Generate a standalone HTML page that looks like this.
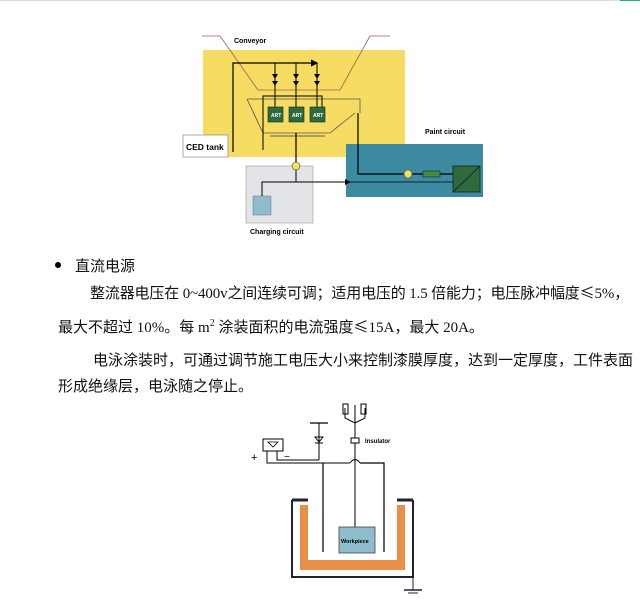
<!DOCTYPE html>
<html><head><meta charset="utf-8"><style>
html,body{margin:0;padding:0;background:#fff;width:640px;height:609px;overflow:hidden;position:relative}
.t{position:absolute;white-space:nowrap;font-family:"Liberation Serif","Noto Sans CJK SC",sans-serif;font-size:15px;color:#111}
.c{font-family:"Noto Sans CJK SC",sans-serif}
</style></head><body>
<div style="position:absolute;left:0;top:0;width:620px;height:1px;background:#ddd"></div>
<div style="position:absolute;left:620px;top:0;width:20px;height:1px;background:#2a9"></div>
<svg width="640" height="609" style="position:absolute;left:0;top:0" font-family="Liberation Sans,sans-serif">
<defs><marker id="a" markerWidth="6" markerHeight="6" refX="5" refY="3" orient="auto"><path d="M0,0L6,3L0,6z" fill="#000"/></marker></defs>
<rect x="203" y="50" width="202" height="107" fill="#f6dc62"/>
<rect x="183" y="135" width="45" height="22" fill="#fff" stroke="#888" stroke-width="0.7"/>
<text x="186" y="150" font-size="8.5" font-weight="bold">CED tank</text>
<text x="234" y="43" font-size="7" font-weight="bold">Conveyor</text>
<polyline points="202,36 220,36 258,90 340,90 370,36 390,36" fill="none" stroke="#a55" stroke-width="0.8"/>
<polyline points="247,99 360,99 360,113" fill="none" stroke="#555" stroke-width="0.8"/>
<polyline points="247,99 263,133 330,133 355,113" fill="none" stroke="#555" stroke-width="0.8"/>
<line x1="270" y1="136" x2="325" y2="136" stroke="#333" stroke-width="0.8"/>
<polyline points="233,152 233,63 317,63" fill="none" stroke="#000" stroke-width="1.2" marker-end="url(#a)"/>
<g stroke="#000" stroke-width="1"><line x1="275" y1="63" x2="275" y2="107"/><line x1="296" y1="63" x2="296" y2="107"/><line x1="317" y1="63" x2="317" y2="107"/></g>
<g fill="#000"><path d="M272,74h6l-3,5z M272,81h6l-3,5z M293,74h6l-3,5z M293,81h6l-3,5z M314,74h6l-3,5z M314,81h6l-3,5z"/></g>
<polyline points="263,150 263,96 322,96 322,107" fill="none" stroke="#000" stroke-width="1"/>
<g fill="#2e6b3a" stroke="#123" stroke-width="0.6"><rect x="268" y="107" width="15" height="15"/><rect x="289" y="107" width="15" height="15"/><rect x="310" y="107" width="15" height="15"/></g>
<g fill="#fff" font-size="5" font-weight="bold"><text x="271" y="117">ART</text><text x="292" y="117">ART</text><text x="313" y="117">ART</text></g>
<rect x="246" y="166" width="67" height="57" fill="#e2e4e8" stroke="#999" stroke-width="0.6"/>
<rect x="253" y="196" width="18" height="19" fill="#8fbccc" stroke="#678" stroke-width="0.5"/>
<rect x="346" y="144" width="137" height="53" fill="#3d8ba0"/>
<text x="425" y="134" font-size="7" font-weight="bold">Paint circuit</text>
<text x="250" y="234" font-size="7" font-weight="bold">Charging circuit</text>
<line x1="296" y1="133" x2="296" y2="162" stroke="#000" stroke-width="1.2"/>
<line x1="296" y1="170" x2="296" y2="182" stroke="#000" stroke-width="1"/>
<circle cx="296" cy="166" r="4" fill="#f4e060" stroke="#444" stroke-width="0.6"/>
<polyline points="262,196 262,182 350,182" fill="none" stroke="#000" stroke-width="1" marker-end="url(#a)"/>
<line x1="350" y1="182" x2="453" y2="182" stroke="#000" stroke-width="0.8"/>
<polyline points="358,113 358,174 453,174" fill="none" stroke="#000" stroke-width="1.2"/>
<circle cx="408" cy="174" r="4" fill="#f4e060" stroke="#444" stroke-width="0.6"/>
<rect x="423" y="171" width="17" height="6" fill="#4a8a3e" stroke="#123" stroke-width="0.6"/>
<rect x="453" y="166" width="27" height="26" fill="#2e6b3a" stroke="#123" stroke-width="0.8"/>
<line x1="453" y1="192" x2="480" y2="166" stroke="#111" stroke-width="0.8"/>
<path d="M292,500v77h121v-77" fill="none" stroke="#223" stroke-width="2"/>
<line x1="292" y1="500" x2="308" y2="500" stroke="#223" stroke-width="3"/>
<line x1="397" y1="500" x2="413" y2="500" stroke="#223" stroke-width="3"/>
<path d="M300,505v65h105v-65h-8v55h-89v-55z" fill="#e8904a"/>
<line x1="413" y1="577" x2="413" y2="590" stroke="#223"/>
<line x1="404" y1="590" x2="422" y2="590" stroke="#223" stroke-width="1.5"/>
<line x1="408" y1="593" x2="418" y2="593" stroke="#223"/>
<rect x="263" y="439" width="20" height="12" fill="#fff" stroke="#000"/>
<path d="M268,442h10l-5,5z" fill="none" stroke="#000" stroke-width="0.8"/>
<text x="251" y="461" font-size="11">+</text><text x="284" y="460" font-size="10">−</text>
<polyline points="267,451 267,463 350,463" fill="none" stroke="#000"/>
<path d="M350,463 q5,-7 10,0" fill="none" stroke="#000"/>
<polyline points="360,463 384,463 384,552" fill="none" stroke="#000" stroke-width="1.2"/>
<polyline points="277,451 277,460 319,460" fill="none" stroke="#000"/>
<line x1="323" y1="463" x2="323" y2="552" stroke="#000" stroke-width="1.2"/>
<line x1="319" y1="423" x2="319" y2="460" stroke="#000"/>
<line x1="310" y1="423" x2="328" y2="423" stroke="#000" stroke-width="1.2"/>
<path d="M315,437h8l-4,5z" fill="none" stroke="#000"/>
<line x1="315" y1="443" x2="323" y2="443" stroke="#000"/>
<line x1="355" y1="420" x2="355" y2="527" stroke="#000"/>
<path d="M345,408v10l10,5l10,-5v-10" fill="none" stroke="#000"/>
<rect x="343" y="404" width="5" height="10" fill="none" stroke="#000"/>
<rect x="361" y="404" width="5" height="10" fill="none" stroke="#000"/>
<line x1="355" y1="405" x2="355" y2="420" stroke="#000"/>
<rect x="351" y="438" width="8" height="5" fill="#fff" stroke="#000"/>
<text x="365" y="443" font-size="6" font-weight="bold">Insulator</text>
<rect x="339" y="527" width="36" height="26" fill="#8fbccc" stroke="#444" stroke-width="0.8"/>
<text x="341" y="543" font-size="5.5" font-weight="bold">Workpiece</text>
</svg>
<div style="position:absolute;left:55px;top:262px;width:6px;height:6px;border-radius:50%;background:#000"></div>
<div class="t c" style="left:75px;top:255px">直流电源</div>
<div class="t" style="left:90px;top:282px;letter-spacing:-0.15px"><span class="c">整流器电压在</span> 0~400v<span class="c">之间连续可调；适用电压的</span> 1.5 <span class="c">倍能力；电压脉冲幅度≤</span>5%<span class="c">，</span></div>
<div class="t" style="left:58px;top:316px"><span class="c">最大不超过</span> 10%<span class="c">。每</span> m<sup style="font-size:10px">2</sup> <span class="c">涂装面积的电流强度≤</span>15A<span class="c">，最大</span> 20A<span class="c">。</span></div>
<div class="t c" style="left:93px;top:349px">电泳涂装时，可通过调节施工电压大小来控制漆膜厚度，达到一定厚度，工件表面</div>
<div class="t c" style="left:58px;top:375px">形成绝缘层，电泳随之停止。</div>
</body></html>
